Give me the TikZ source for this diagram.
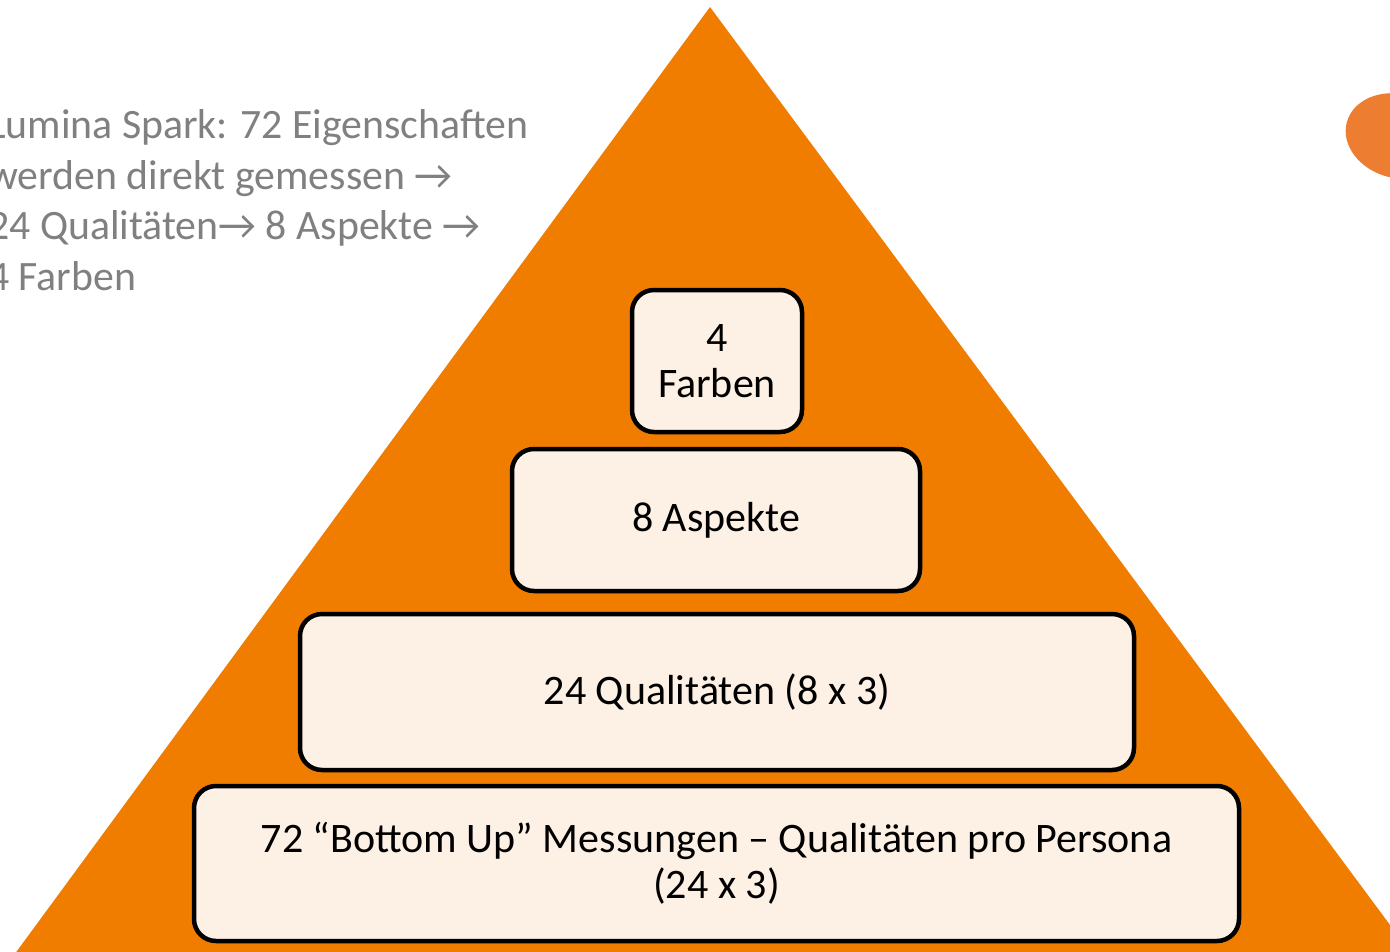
\documentclass[tikz,border=0pt]{standalone}
\usepackage{fontspec}
\setmainfont{Carlito}
\definecolor{pyr}{RGB}{240,125,0}
\definecolor{blob}{RGB}{237,125,49}
\definecolor{boxfill}{RGB}{253,240,228}
\definecolor{graytext}{RGB}{128,128,128}
\tikzset{
  levelbox/.style={draw=black, line width=4.5pt, fill=boxfill, rounded corners=22pt,
    align=center, inner sep=0pt, font=\fontsize{42}{46}\selectfont},
  note/.style={anchor=base west, align=left, text=graytext, inner sep=0pt,
    font=\fontsize{41.8}{50.5}\selectfont}
}
\begin{document}
\begin{tikzpicture}[x=1pt,y=-1pt]
\useasboundingbox (0,0) rectangle (1390,951);
\clip (0,0) rectangle (1390,951);
\fill[white] (0,0) rectangle (1390,951);
% pyramid
\fill[pyr] (710,7) -- (1445.6,1000) -- (-19,1000) -- cycle;
% blob on the right
\fill[blob, rotate around={-15:(1398,136)}] (1398,136) ellipse [x radius=53pt, y radius=42pt];
% note text (anchor on the baseline of its last line)
\node[note] (note) at (-12,290) {Lumina Spark: 72 Eigenschaften\\werden direkt gemessen →\\24 Qualitäten→ 8 Aspekte →\\4 Farben};
% levels
\node[levelbox, minimum width=170pt, minimum height=142pt] (farben) at (717,361) {4\\Farben};
\node[levelbox, minimum width=408pt, minimum height=142pt] (aspekte) at (716,520) {8 Aspekte};
\node[levelbox, minimum width=834pt, minimum height=156pt] (qual) at (717,692) {24 Qualitäten (8 x 3)};
\node[levelbox, minimum width=1045pt, minimum height=155pt] (mess) at (716.5,863.5) {72 “Bottom Up” Messungen – Qualitäten pro Persona\\(24 x 3)};
\end{tikzpicture}
\end{document}
